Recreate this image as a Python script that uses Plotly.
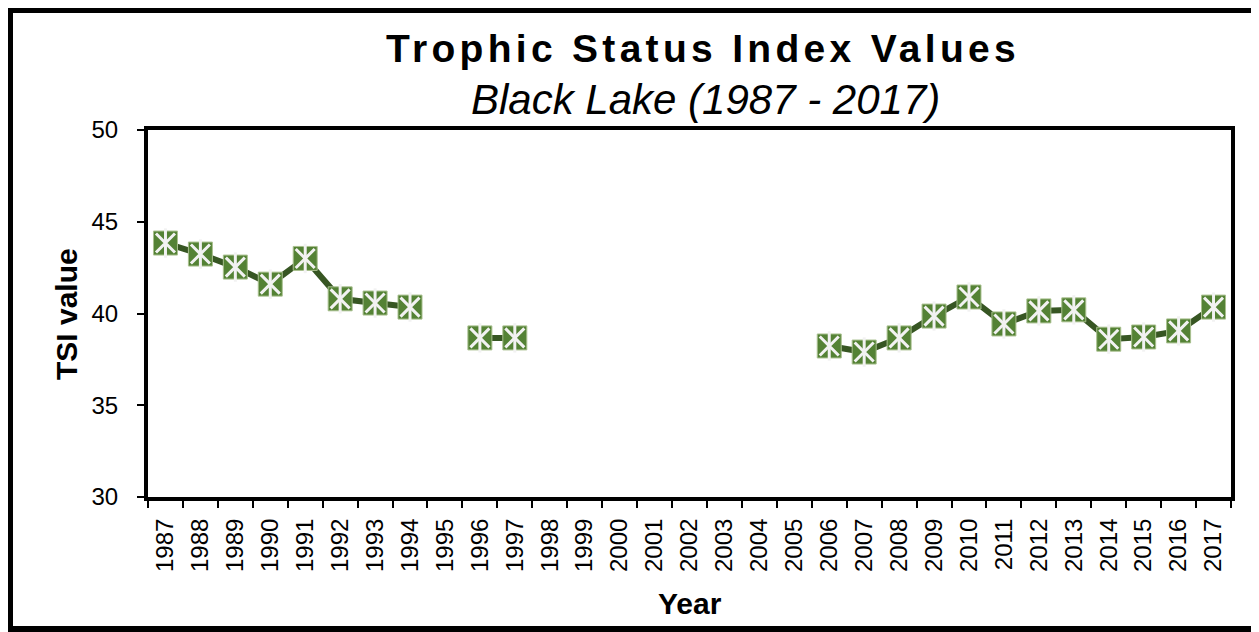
import plotly.graph_objects as go

years = [str(y) for y in range(1987, 2018)]
tsi = [43.84, 43.24, 42.53, 41.6, 43.0, 40.8, 40.57, 40.35, None, 38.67, 38.67,
       None, None, None, None, None, None, None, None,
       38.23, 37.9, 38.67, 39.86, 40.9, 39.43, 40.14, 40.2, 38.6, 38.72, 39.05, 40.35]
y_ticks = [30, 35, 40, 45, 50]

OFF = 8  # page body margin
W, H = 1259 - OFF, 632 - OFF
# screen-pixel layout of plot area
SL, SR, ST, SB = 148, 1231, 130, 497
L, T = SL - OFF, ST - OFF
R, B = W - (SR - OFF), H - (SB - OFF)
pw, ph = W - L - R, H - T - B

def px(xs):
    return (xs - OFF - L) / pw

def py(ys):
    return (H - B - (ys - OFF)) / ph

FONT = "Liberation Sans, Arial, sans-serif"

fig = go.Figure()
fig.add_trace(go.Scatter(
    x=years, y=tsi, mode="lines+markers", connectgaps=False,
    line=dict(color="#375623", width=6),
    marker=dict(symbol="square", size=24, color="#548235",
                line=dict(color="#a9c08f", width=1)),
    hoverinfo="x+y", showlegend=False))
fig.add_trace(go.Scatter(
    x=years, y=tsi, mode="markers",
    marker=dict(symbol="x-thin-open", size=19, color="#f2f2f2",
                line=dict(color="#f2f2f2", width=3)),
    hoverinfo="skip", showlegend=False))
fig.add_trace(go.Scatter(
    x=years, y=tsi, mode="markers",
    marker=dict(symbol="line-ns-open", size=21, color="#f2f2f2",
                line=dict(color="#f2f2f2", width=3)),
    hoverinfo="skip", showlegend=False))

fig.update_layout(
    width=W, height=H,
    margin=dict(l=L, r=R, t=T, b=B, autoexpand=False),
    paper_bgcolor="white", plot_bgcolor="white",
    font=dict(family=FONT, color="black"),
    xaxis=dict(type="category", categoryorder="array", categoryarray=years,
               tickmode="array", tickvals=years, ticktext=years,
               tickangle=-90, tickfont=dict(size=24, family=FONT),
               ticks="outside", ticklen=7, tickwidth=1.5, tickcolor="black",
               tickson="boundaries", ticklabelstandoff=8,
               showline=True, linewidth=4, linecolor="black", mirror=True,
               showgrid=False, zeroline=False, range=[-0.5, 30.5]),
    yaxis=dict(range=[30, 50], tickvals=y_ticks,
               tickfont=dict(size=24, family=FONT),
               ticks="outside", ticklen=7, tickwidth=1.5, tickcolor="black",
               ticklabelstandoff=14,
               showline=True, linewidth=4, linecolor="black", mirror=True,
               showgrid=False, zeroline=False),
    annotations=[
        dict(text="<b>Trophic Status Index Values</b>", xref="paper", yref="paper",
             x=px(703), y=py(48), xanchor="center", yanchor="middle",
             showarrow=False, font=dict(size=39, family=FONT, color="black")),
        dict(text="<i>Black Lake (1987 - 2017)</i>", xref="paper", yref="paper",
             x=px(705), y=py(100), xanchor="center", yanchor="middle",
             showarrow=False, font=dict(size=42, family=FONT, color="black")),
        dict(text="<b>TSI value</b>", xref="paper", yref="paper",
             x=px(66), y=py(314), xanchor="center", yanchor="middle",
             textangle=-90, showarrow=False,
             font=dict(size=30, family=FONT, color="black")),
        dict(text="<b>Year</b>", xref="paper", yref="paper",
             x=px(690), y=py(603), xanchor="center", yanchor="middle",
             showarrow=False, font=dict(size=30, family=FONT, color="black")),
    ],
    shapes=[
        dict(type="rect", xref="paper", yref="paper",
             x0=px(10), x1=px(1256), y0=py(629), y1=py(10),
             line=dict(color="black", width=6), fillcolor="rgba(0,0,0,0)",
             layer="below"),
    ],
)

post = """
var els = document.querySelectorAll('.annotation-text');
els.forEach(function(e){
  if (e.textContent.indexOf('Trophic') === 0) { e.style.letterSpacing = '4.3px'; }
});
"""
fig.write_html("out.html", post_script=post)
